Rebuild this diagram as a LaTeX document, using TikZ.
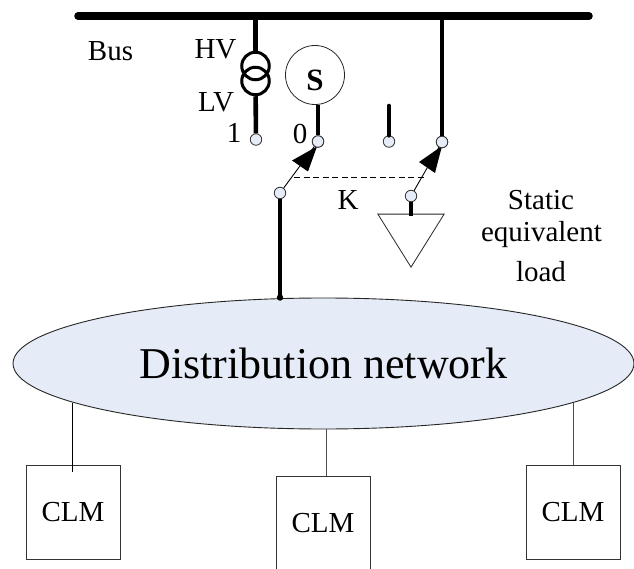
\documentclass[tikz,border=0pt]{standalone}
\usepackage{fontspec}
\setmainfont{Liberation Serif}
\usetikzlibrary{shapes.geometric}
\definecolor{paleblue}{HTML}{E6ECF7}
\tikzset{
  x=1pt,y=-1pt,
  heavy/.style={line width=4.6pt},
  thin line/.style={draw=black!70,line width=0.9pt},
  term/.style={circle,draw=black!80,fill=paleblue,line width=0.8pt,minimum size=11.5pt,inner sep=0pt},
  coil/.style={circle,draw,line width=3pt,minimum size=27.5pt,inner sep=0pt},
  clm/.style={rectangle,draw=black!80,line width=0.9pt,minimum width=94pt,minimum height=94pt,inner sep=0pt,font=\fontsize{29}{29}\selectfont},
  lbl/.style={inner sep=0pt,font=\fontsize{29}{29}\selectfont}
}
\begin{document}
\begin{tikzpicture}
\clip (0,0) rectangle (634,569);
\fill[white] (0,0) rectangle (634,569);
% bus
\coordinate (busL) at (78,16);
\coordinate (busR) at (589,16);
\draw[line width=7.5pt,line cap=round] (busL) -- (busR);
% transformer
\node[coil] (tH) at (255.5,66) {};
\node[coil] (tL) at (255.5,81) {};
\coordinate (busA) at (255.5,16);
\coordinate (busB) at (442,16);
% terminals
\node[term] (t1) at (256,139.5) {};
\node[term] (t0) at (318,141.5) {};
\node[term] (t2) at (389,141.5) {};
\node[term] (t3) at (442,142) {};
\node[term] (sw1) at (280,193) {};
\node[term] (sw2) at (411,196) {};
% source
\node[circle,draw=black!85,line width=0.8pt,minimum size=59pt,inner sep=0pt] (S) at (315,75) {};
\node[inner sep=0pt,font=\fontsize{31}{31}\selectfont\bfseries] (Slabel) at (315,80.5) {S};
\coordinate (top2) at (389,106);
% load
\node[isosceles triangle,isosceles triangle apex angle=64,shape border rotate=-90,draw=black!85,line width=0.8pt,minimum height=53pt,inner sep=0pt] (load) at (411,232.5) {};
% heavy lines
\draw[heavy] (busA) -- (tH);
\draw[heavy] (tL) -- (t1);
\draw[heavy] (S.south -| t0) -- (t0);
\draw[heavy,line cap=round] (top2) -- (t2);
\draw[heavy] (busB) -- (t3);
\draw[heavy] (sw2) -- (411,216);
% network
\node[ellipse,draw=black!85,fill=paleblue,line width=0.9pt,minimum width=621pt,minimum height=131pt,inner sep=0pt,font=\fontsize{44}{44}\selectfont] (net) at (323.5,363.5) {Distribution network};
\draw[heavy] (sw1) -- (net.north -| sw1);
\fill (net.north -| sw1) circle (3.2pt);
% switch blades
\draw[line width=0.9pt] (sw1) -- (t0);
\draw[line width=0.9pt] (sw2) -- (t3);
\fill (t0.center) ++(-1,5) -- ++(-25,14) -- ++(16,11) -- cycle;
\fill (t3.center) ++(0,4) -- ++(-23,16) -- ++(16,11) -- cycle;
\draw[line width=0.9pt,dash pattern=on 6pt off 3.5pt] (294,177) -- (424,177);
\node[term] at (t0) {};
\node[term] at (t3) {};
% CLM
\node[clm] (c1) at (73,512) {CLM};
\node[clm] (c2) at (323,523) {CLM};
\node[clm] (c3) at (573,512) {CLM};
\coordinate (c1end) at (72,472);
\coordinate (n1) at (72,402.7);
\coordinate (n3) at (573,403);
\draw[line width=0.8pt] (n1) -- (c1end);
\draw[thin line] (net.south -| c2.north) ++(3,0) -- ++(0,47);
\draw[thin line] (n3) -- (n3 |- c3.north);
% labels
\node[lbl] (bus) at (110.5,51) {Bus};
\node[lbl] (hv) at (215.5,49) {HV};
\node[lbl] (lv) at (216,102) {LV};
\node[lbl] (one) at (234,133) {1};
\node[lbl] (zero) at (300,134) {0};
\node[lbl] (k) at (348,200) {K};
\node[lbl] (st) at (541,200) {Static};
\node[lbl] (eq) at (541.5,235) {equivalent};
\node[lbl] (lo) at (541,272) {load};
\end{tikzpicture}
\end{document}
